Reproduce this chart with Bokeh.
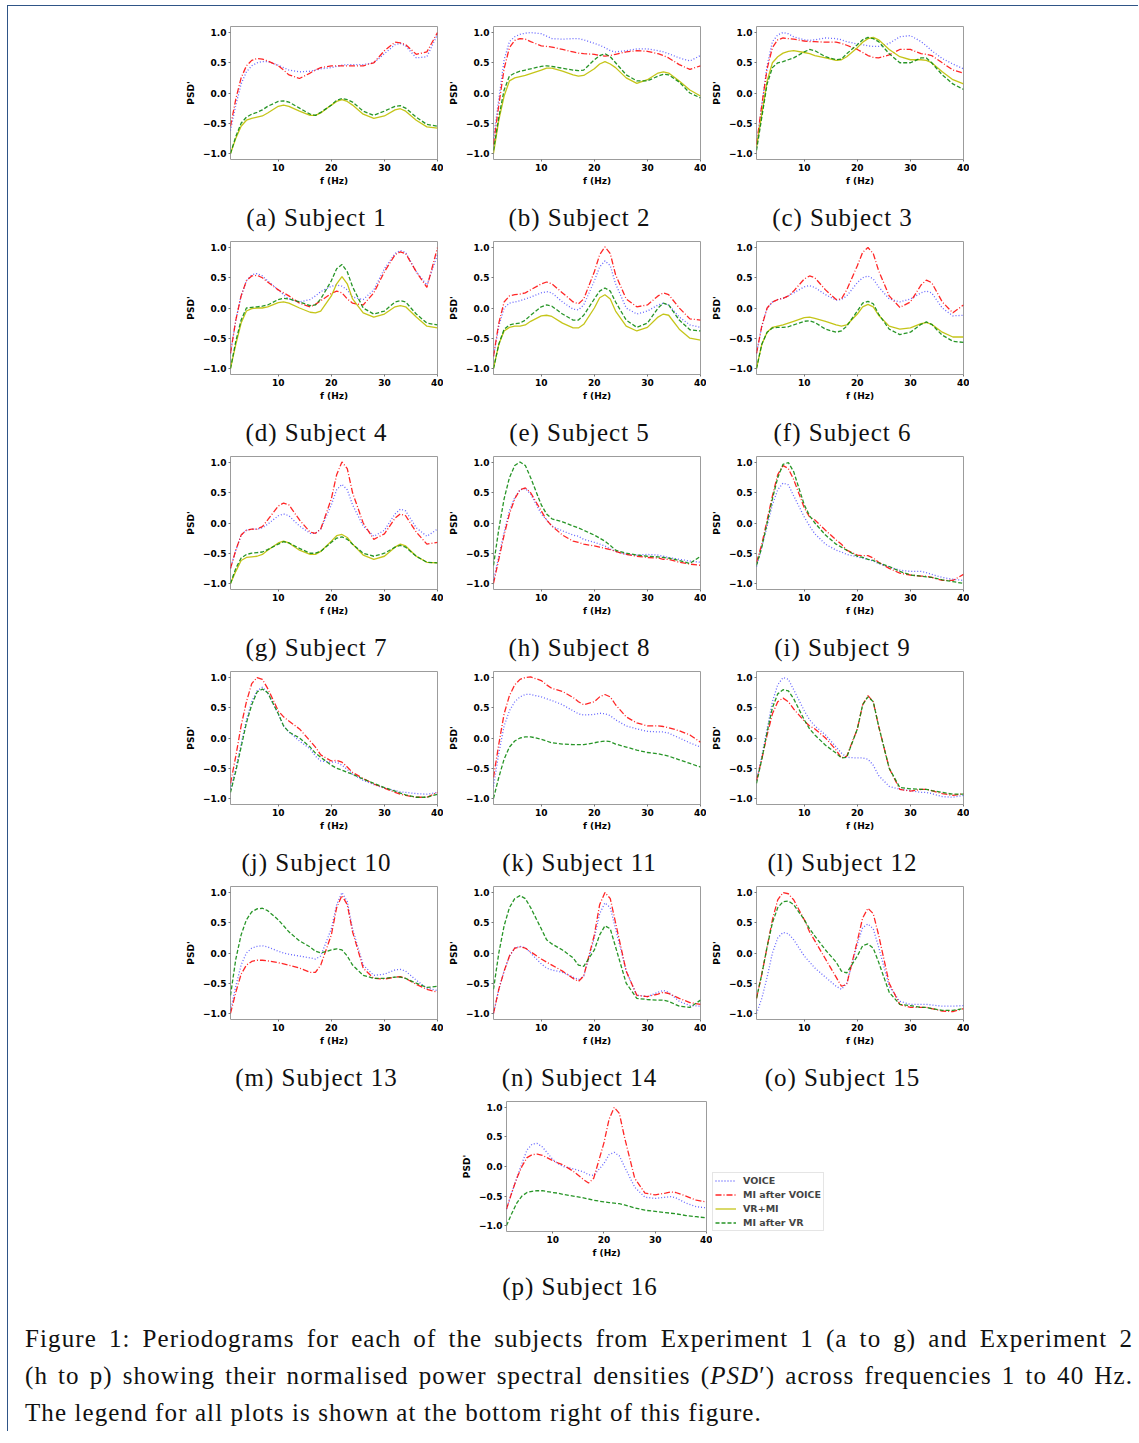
from bokeh.plotting import figure
from bokeh.models import Range1d, FixedTicker, Legend, LegendItem, Div, Spacer
from bokeh.layouts import row, column
from bokeh.embed import file_html
from bokeh.resources import INLINE

# frequency samples (Hz)
FREQ = [1, 2, 3, 4, 5, 6, 7, 8, 10, 11, 12, 14, 16, 17, 18, 20, 21, 22, 23, 24, 26, 28, 30, 32, 33, 34, 36, 38, 40]

X_TICKS = [10, 20, 30, 40]
Y_TICKS = [-1.0, -0.5, 0.0, 0.5, 1.0]
Y_TICK_LABELS = ["\u22121.0", "\u22120.5", "0.0", "0.5", "1.0"]

SERIES_NAMES = ["VOICE", "MI after VOICE", "VR+MI", "MI after VR"]

# ---- Experiment 1 ----
voice_s1 = [-0.62,-0.2,0.15,0.35,0.45,0.5,0.52,0.52,0.46,0.42,0.38,0.35,0.36,0.38,0.4,0.42,0.44,0.46,0.47,0.47,0.47,0.5,0.65,0.8,0.82,0.78,0.58,0.6,0.97]
mi_voice_s1 = [-0.55,-0.1,0.25,0.45,0.54,0.57,0.56,0.53,0.45,0.38,0.3,0.24,0.33,0.38,0.42,0.45,0.45,0.45,0.45,0.45,0.45,0.5,0.7,0.84,0.83,0.8,0.64,0.68,1.0]
vr_mi_s1 = [-1.0,-0.75,-0.55,-0.45,-0.42,-0.4,-0.38,-0.33,-0.22,-0.2,-0.22,-0.3,-0.37,-0.37,-0.33,-0.2,-0.14,-0.11,-0.14,-0.2,-0.35,-0.42,-0.38,-0.28,-0.26,-0.3,-0.45,-0.56,-0.58]
mi_vr_s1 = [-1.0,-0.72,-0.5,-0.4,-0.35,-0.32,-0.28,-0.22,-0.14,-0.13,-0.15,-0.25,-0.35,-0.37,-0.32,-0.2,-0.12,-0.09,-0.11,-0.15,-0.3,-0.37,-0.3,-0.22,-0.21,-0.25,-0.4,-0.52,-0.55]

voice_s2 = [-0.75,-0.1,0.55,0.85,0.93,0.97,0.99,1.0,0.98,0.94,0.9,0.89,0.9,0.9,0.88,0.82,0.79,0.75,0.7,0.68,0.7,0.73,0.73,0.7,0.68,0.65,0.58,0.53,0.62]
mi_voice_s2 = [-0.85,-0.2,0.4,0.75,0.87,0.9,0.89,0.85,0.78,0.77,0.76,0.72,0.68,0.66,0.65,0.64,0.62,0.61,0.62,0.64,0.68,0.7,0.69,0.65,0.62,0.58,0.47,0.39,0.45]
vr_mi_s2 = [-1.0,-0.45,-0.05,0.2,0.25,0.27,0.29,0.32,0.38,0.41,0.41,0.36,0.3,0.28,0.29,0.4,0.48,0.52,0.48,0.42,0.25,0.16,0.22,0.33,0.35,0.33,0.2,0.05,-0.05]
mi_vr_s2 = [-0.95,-0.4,0.05,0.28,0.33,0.36,0.38,0.4,0.44,0.45,0.44,0.41,0.38,0.37,0.38,0.55,0.62,0.65,0.6,0.5,0.3,0.2,0.2,0.28,0.31,0.3,0.18,0.0,-0.08]

voice_s3 = [-0.9,-0.2,0.45,0.85,0.96,1.0,0.98,0.93,0.88,0.87,0.88,0.91,0.9,0.88,0.85,0.81,0.8,0.78,0.77,0.77,0.82,0.93,0.95,0.85,0.78,0.7,0.57,0.48,0.4]
mi_voice_s3 = [-0.85,-0.2,0.4,0.75,0.88,0.91,0.9,0.89,0.86,0.85,0.85,0.84,0.84,0.82,0.79,0.72,0.67,0.62,0.59,0.58,0.63,0.72,0.72,0.65,0.64,0.62,0.5,0.38,0.33]
vr_mi_s3 = [-0.9,-0.35,0.2,0.5,0.6,0.66,0.69,0.7,0.67,0.65,0.62,0.58,0.54,0.55,0.6,0.75,0.84,0.9,0.92,0.88,0.72,0.6,0.55,0.55,0.54,0.5,0.35,0.22,0.15]
mi_vr_s3 = [-0.95,-0.4,0.15,0.42,0.5,0.52,0.55,0.58,0.68,0.72,0.7,0.6,0.55,0.56,0.65,0.8,0.88,0.92,0.9,0.85,0.65,0.5,0.5,0.58,0.58,0.5,0.3,0.15,0.06]

voice_s4 = [-0.75,-0.2,0.2,0.45,0.55,0.57,0.53,0.45,0.3,0.22,0.15,0.1,0.14,0.2,0.27,0.36,0.38,0.36,0.3,0.18,0.14,0.3,0.65,0.9,0.95,0.92,0.6,0.38,0.88]
mi_voice_s4 = [-0.75,-0.2,0.2,0.45,0.53,0.54,0.5,0.43,0.3,0.25,0.2,0.08,0.02,0.06,0.12,0.24,0.28,0.25,0.15,0.08,0.05,0.25,0.6,0.88,0.93,0.9,0.6,0.34,1.0]
vr_mi_s4 = [-1.0,-0.6,-0.25,-0.05,-0.01,0.0,0.0,0.02,0.09,0.1,0.08,0.0,-0.07,-0.08,-0.05,0.2,0.4,0.52,0.4,0.15,-0.08,-0.15,-0.1,0.02,0.04,0.02,-0.15,-0.3,-0.33]
mi_vr_s4 = [-1.0,-0.55,-0.2,0.0,0.01,0.02,0.03,0.05,0.14,0.16,0.15,0.1,0.04,0.05,0.15,0.45,0.65,0.72,0.6,0.35,0.0,-0.1,-0.05,0.1,0.12,0.1,-0.1,-0.25,-0.28]

voice_s5 = [-0.8,-0.3,0.0,0.08,0.1,0.12,0.15,0.18,0.25,0.27,0.25,0.1,-0.02,-0.03,0.05,0.45,0.68,0.78,0.7,0.4,0.0,-0.1,-0.05,0.05,0.08,0.05,-0.15,-0.28,-0.32]
mi_voice_s5 = [-0.8,-0.25,0.1,0.2,0.22,0.23,0.25,0.3,0.4,0.43,0.4,0.25,0.1,0.07,0.15,0.6,0.88,1.01,0.9,0.55,0.15,0.02,0.05,0.2,0.25,0.22,0.0,-0.18,-0.2]
vr_mi_s5 = [-1.0,-0.6,-0.38,-0.32,-0.3,-0.3,-0.28,-0.22,-0.13,-0.12,-0.14,-0.25,-0.33,-0.33,-0.27,0.0,0.17,0.22,0.15,-0.05,-0.3,-0.38,-0.32,-0.15,-0.1,-0.12,-0.35,-0.5,-0.53]
mi_vr_s5 = [-1.0,-0.6,-0.35,-0.28,-0.26,-0.25,-0.2,-0.12,0.02,0.05,0.03,-0.1,-0.2,-0.2,-0.12,0.15,0.28,0.33,0.28,0.1,-0.2,-0.32,-0.25,0.0,0.08,0.05,-0.2,-0.36,-0.38]

voice_s6 = [-0.75,-0.3,0.0,0.1,0.14,0.16,0.2,0.25,0.35,0.37,0.34,0.22,0.13,0.14,0.2,0.42,0.5,0.53,0.48,0.35,0.15,0.1,0.15,0.25,0.28,0.25,0.0,-0.13,-0.12]
mi_voice_s6 = [-0.75,-0.3,0.0,0.1,0.14,0.16,0.2,0.28,0.48,0.53,0.5,0.3,0.14,0.15,0.3,0.7,0.92,1.0,0.9,0.62,0.2,0.01,0.1,0.38,0.46,0.42,0.1,-0.08,0.05]
vr_mi_s6 = [-1.0,-0.6,-0.4,-0.32,-0.3,-0.28,-0.25,-0.22,-0.16,-0.15,-0.17,-0.22,-0.28,-0.3,-0.28,-0.1,0.02,0.06,0.02,-0.12,-0.3,-0.35,-0.33,-0.26,-0.24,-0.27,-0.4,-0.48,-0.48]
mi_vr_s6 = [-1.0,-0.6,-0.4,-0.33,-0.32,-0.32,-0.31,-0.28,-0.22,-0.21,-0.24,-0.35,-0.4,-0.38,-0.3,-0.05,0.08,0.11,0.07,-0.1,-0.35,-0.44,-0.4,-0.27,-0.23,-0.27,-0.45,-0.55,-0.57]

voice_s7 = [-0.75,-0.45,-0.2,-0.12,-0.1,-0.1,-0.08,-0.02,0.12,0.15,0.12,-0.05,-0.17,-0.17,-0.1,0.3,0.55,0.64,0.55,0.3,-0.05,-0.22,-0.12,0.15,0.23,0.2,-0.08,-0.22,-0.1]
mi_voice_s7 = [-0.75,-0.45,-0.2,-0.12,-0.1,-0.1,-0.06,0.05,0.28,0.33,0.3,0.05,-0.15,-0.17,-0.1,0.4,0.8,1.01,0.9,0.5,0.0,-0.27,-0.18,0.08,0.15,0.12,-0.15,-0.35,-0.32]
vr_mi_s7 = [-1.0,-0.8,-0.62,-0.57,-0.56,-0.55,-0.52,-0.45,-0.33,-0.3,-0.33,-0.45,-0.52,-0.52,-0.47,-0.3,-0.21,-0.19,-0.24,-0.35,-0.53,-0.6,-0.55,-0.4,-0.35,-0.38,-0.55,-0.65,-0.66]
mi_vr_s7 = [-1.0,-0.75,-0.58,-0.52,-0.5,-0.49,-0.48,-0.44,-0.35,-0.31,-0.33,-0.42,-0.5,-0.5,-0.47,-0.32,-0.25,-0.23,-0.27,-0.35,-0.5,-0.55,-0.5,-0.4,-0.37,-0.4,-0.55,-0.65,-0.66]

# ---- Experiment 2 (no VR+MI condition) ----
voice_s8 = [-0.95,-0.55,-0.15,0.2,0.42,0.55,0.57,0.48,0.15,0.05,-0.05,-0.13,-0.2,-0.22,-0.27,-0.32,-0.35,-0.38,-0.43,-0.47,-0.52,-0.53,-0.52,-0.53,-0.55,-0.57,-0.6,-0.63,-0.65]
mi_voice_s8 = [-1.0,-0.6,-0.2,0.15,0.4,0.55,0.58,0.5,0.2,0.05,-0.05,-0.2,-0.3,-0.32,-0.35,-0.38,-0.4,-0.42,-0.44,-0.47,-0.52,-0.55,-0.57,-0.58,-0.6,-0.6,-0.65,-0.68,-0.7]
mi_vr_s8 = [-0.7,-0.1,0.4,0.75,0.95,1.01,0.95,0.75,0.3,0.15,0.07,0.02,-0.05,-0.08,-0.12,-0.2,-0.25,-0.3,-0.37,-0.45,-0.5,-0.53,-0.55,-0.56,-0.57,-0.58,-0.62,-0.67,-0.55]

voice_s9 = [-0.72,-0.4,-0.05,0.3,0.55,0.66,0.63,0.45,0.1,-0.05,-0.18,-0.35,-0.45,-0.48,-0.52,-0.56,-0.58,-0.6,-0.63,-0.67,-0.73,-0.78,-0.8,-0.8,-0.82,-0.85,-0.9,-0.93,-0.95]
mi_voice_s9 = [-0.65,-0.35,0.05,0.45,0.8,0.95,0.9,0.72,0.25,0.1,0.05,-0.12,-0.28,-0.35,-0.45,-0.53,-0.54,-0.54,-0.58,-0.65,-0.75,-0.83,-0.86,-0.88,-0.88,-0.9,-0.95,-0.95,-0.85]
mi_vr_s9 = [-0.7,-0.4,0.0,0.4,0.75,0.97,1.0,0.85,0.3,0.12,0.0,-0.2,-0.35,-0.4,-0.45,-0.55,-0.57,-0.6,-0.62,-0.66,-0.72,-0.8,-0.86,-0.88,-0.89,-0.9,-0.94,-0.97,-1.0]

voice_s10 = [-0.85,-0.5,-0.1,0.3,0.6,0.78,0.84,0.75,0.4,0.2,0.1,-0.05,-0.18,-0.3,-0.38,-0.4,-0.4,-0.45,-0.52,-0.6,-0.7,-0.77,-0.83,-0.87,-0.89,-0.9,-0.92,-0.93,-0.9]
mi_voice_s10 = [-0.75,-0.3,0.2,0.6,0.9,1.0,0.97,0.82,0.45,0.35,0.28,0.15,-0.05,-0.15,-0.28,-0.38,-0.37,-0.4,-0.48,-0.57,-0.67,-0.76,-0.83,-0.9,-0.93,-0.95,-0.98,-0.98,-0.9]
mi_vr_s10 = [-0.9,-0.55,-0.15,0.25,0.55,0.76,0.81,0.75,0.4,0.2,0.1,0.0,-0.15,-0.25,-0.32,-0.45,-0.5,-0.53,-0.57,-0.6,-0.68,-0.75,-0.82,-0.88,-0.91,-0.94,-0.98,-0.98,-0.93]

voice_s11 = [-0.8,-0.25,0.2,0.45,0.6,0.68,0.72,0.72,0.68,0.65,0.62,0.55,0.45,0.4,0.38,0.39,0.41,0.4,0.37,0.3,0.2,0.15,0.11,0.1,0.1,0.08,0.0,-0.08,-0.15]
mi_voice_s11 = [-0.65,-0.1,0.4,0.7,0.88,0.97,1.0,1.01,0.95,0.88,0.82,0.77,0.67,0.6,0.55,0.6,0.68,0.72,0.68,0.55,0.35,0.25,0.2,0.2,0.19,0.17,0.12,0.05,-0.07]
mi_vr_s11 = [-1.0,-0.65,-0.35,-0.15,-0.05,0.0,0.02,0.02,-0.02,-0.05,-0.08,-0.1,-0.11,-0.11,-0.11,-0.08,-0.06,-0.05,-0.06,-0.1,-0.15,-0.2,-0.24,-0.26,-0.28,-0.3,-0.36,-0.42,-0.48]

voice_s12 = [-0.7,-0.3,0.15,0.6,0.88,1.0,0.97,0.8,0.45,0.3,0.2,0.05,-0.15,-0.25,-0.32,-0.33,-0.33,-0.35,-0.45,-0.62,-0.8,-0.85,-0.87,-0.9,-0.9,-0.92,-0.97,-0.98,-0.95]
mi_voice_s12 = [-0.7,-0.35,0.05,0.4,0.6,0.66,0.6,0.48,0.28,0.2,0.15,0.0,-0.2,-0.33,-0.3,0.15,0.55,0.7,0.6,0.2,-0.5,-0.85,-0.88,-0.85,-0.85,-0.87,-0.92,-0.95,-0.92]
mi_vr_s12 = [-0.75,-0.35,0.1,0.5,0.73,0.8,0.78,0.65,0.3,0.15,0.05,-0.12,-0.25,-0.33,-0.32,0.15,0.55,0.68,0.6,0.2,-0.5,-0.82,-0.84,-0.85,-0.85,-0.87,-0.9,-0.93,-0.93]

voice_s13 = [-0.95,-0.55,-0.2,0.0,0.08,0.11,0.12,0.1,0.03,0.0,-0.02,-0.05,-0.08,-0.1,-0.05,0.4,0.8,1.0,0.85,0.4,-0.2,-0.37,-0.35,-0.28,-0.27,-0.3,-0.45,-0.58,-0.62]
mi_voice_s13 = [-1.0,-0.65,-0.35,-0.2,-0.14,-0.12,-0.12,-0.13,-0.16,-0.18,-0.2,-0.25,-0.32,-0.32,-0.2,0.3,0.75,0.95,0.8,0.35,-0.25,-0.42,-0.43,-0.4,-0.39,-0.42,-0.52,-0.6,-0.65]
mi_vr_s13 = [-0.7,-0.1,0.3,0.55,0.68,0.73,0.74,0.7,0.55,0.45,0.35,0.2,0.1,0.03,0.0,0.05,0.07,0.05,-0.05,-0.2,-0.37,-0.42,-0.42,-0.4,-0.4,-0.42,-0.5,-0.57,-0.55]

voice_s14 = [-1.0,-0.6,-0.3,-0.05,0.08,0.11,0.09,0.0,-0.18,-0.25,-0.28,-0.32,-0.4,-0.44,-0.38,0.25,0.65,0.83,0.75,0.4,-0.3,-0.7,-0.72,-0.65,-0.62,-0.65,-0.8,-0.87,-0.88]
mi_voice_s14 = [-1.0,-0.6,-0.3,-0.05,0.08,0.1,0.08,0.02,-0.1,-0.15,-0.2,-0.3,-0.42,-0.47,-0.38,0.3,0.8,1.0,0.9,0.5,-0.3,-0.7,-0.72,-0.68,-0.65,-0.67,-0.75,-0.82,-0.85]
mi_vr_s14 = [-0.6,0.0,0.45,0.75,0.9,0.95,0.9,0.75,0.4,0.22,0.15,0.05,-0.08,-0.2,-0.22,0.05,0.3,0.45,0.4,0.1,-0.5,-0.75,-0.77,-0.78,-0.78,-0.8,-0.88,-0.9,-0.78]

voice_s15 = [-1.0,-0.75,-0.4,0.0,0.25,0.34,0.32,0.22,-0.05,-0.15,-0.25,-0.4,-0.55,-0.6,-0.5,0.15,0.42,0.48,0.4,0.1,-0.55,-0.8,-0.85,-0.85,-0.85,-0.86,-0.88,-0.88,-0.87]
mi_voice_s15 = [-0.75,-0.35,0.1,0.55,0.88,1.0,0.98,0.88,0.55,0.35,0.2,-0.1,-0.4,-0.55,-0.52,0.2,0.58,0.74,0.65,0.3,-0.5,-0.85,-0.9,-0.9,-0.9,-0.92,-0.96,-0.97,-0.92]
mi_vr_s15 = [-0.75,-0.35,0.1,0.5,0.75,0.85,0.86,0.8,0.55,0.4,0.28,0.05,-0.15,-0.3,-0.33,-0.05,0.12,0.15,0.08,-0.15,-0.65,-0.85,-0.87,-0.9,-0.9,-0.92,-0.95,-0.95,-0.92]

voice_s16 = [-0.72,-0.45,-0.2,0.05,0.28,0.38,0.39,0.33,0.12,0.05,0.0,-0.04,-0.09,-0.14,-0.15,0.05,0.2,0.24,0.18,0.0,-0.35,-0.52,-0.54,-0.52,-0.51,-0.53,-0.62,-0.68,-0.7]
mi_voice_s16 = [-0.72,-0.45,-0.2,0.0,0.15,0.2,0.21,0.19,0.1,0.06,0.03,-0.08,-0.22,-0.28,-0.2,0.4,0.8,1.0,0.9,0.5,-0.2,-0.45,-0.48,-0.45,-0.43,-0.44,-0.5,-0.57,-0.6]
mi_vr_s16 = [-1.0,-0.8,-0.62,-0.5,-0.44,-0.42,-0.41,-0.41,-0.44,-0.45,-0.47,-0.5,-0.53,-0.55,-0.57,-0.6,-0.61,-0.62,-0.63,-0.65,-0.7,-0.74,-0.76,-0.78,-0.79,-0.8,-0.83,-0.85,-0.87]

SUBJECTS = [
    ("a", 1, voice_s1, mi_voice_s1, vr_mi_s1, mi_vr_s1),
    ("b", 2, voice_s2, mi_voice_s2, vr_mi_s2, mi_vr_s2),
    ("c", 3, voice_s3, mi_voice_s3, vr_mi_s3, mi_vr_s3),
    ("d", 4, voice_s4, mi_voice_s4, vr_mi_s4, mi_vr_s4),
    ("e", 5, voice_s5, mi_voice_s5, vr_mi_s5, mi_vr_s5),
    ("f", 6, voice_s6, mi_voice_s6, vr_mi_s6, mi_vr_s6),
    ("g", 7, voice_s7, mi_voice_s7, vr_mi_s7, mi_vr_s7),
    ("h", 8, voice_s8, mi_voice_s8, None, mi_vr_s8),
    ("i", 9, voice_s9, mi_voice_s9, None, mi_vr_s9),
    ("j", 10, voice_s10, mi_voice_s10, None, mi_vr_s10),
    ("k", 11, voice_s11, mi_voice_s11, None, mi_vr_s11),
    ("l", 12, voice_s12, mi_voice_s12, None, mi_vr_s12),
    ("m", 13, voice_s13, mi_voice_s13, None, mi_vr_s13),
    ("n", 14, voice_s14, mi_voice_s14, None, mi_vr_s14),
    ("o", 15, voice_s15, mi_voice_s15, None, mi_vr_s15),
    ("p", 16, voice_s16, mi_voice_s16, None, mi_vr_s16),
]

STYLES = {
    "VOICE": dict(line_color="#0000ff", line_dash="1 2", line_width=1.3, line_alpha=0.6),
    "MI after VOICE": dict(line_color="#ff0000", line_dash="6 2 1 2", line_width=1.3, line_alpha=0.85),
    "VR+MI": dict(line_color="#bfbf00", line_dash="solid", line_width=1.3, line_alpha=0.9),
    "MI after VR": dict(line_color="#108a10", line_dash="4 2", line_width=1.3, line_alpha=0.9),
}

AX_FONT = "DejaVu Sans"
NAN = float("nan")


def make_panel(series, frame_w=207, frame_h=134, left=50, right=6, top=4, bottom=28):
    p = figure(width=left + frame_w + right, height=top + frame_h + bottom,
               x_range=Range1d(1, 40), y_range=Range1d(-1.1, 1.1),
               output_backend="svg", toolbar_location=None,
               min_border_left=left, min_border_right=right,
               min_border_top=top, min_border_bottom=bottom,
               background_fill_color="white", border_fill_color="white",
               outline_line_color="#9c9c9c", outline_line_width=1)
    p.grid.visible = False
    p.xaxis.ticker = FixedTicker(ticks=X_TICKS)
    p.yaxis.ticker = FixedTicker(ticks=Y_TICKS)
    p.yaxis.major_label_overrides = {t: s for t, s in zip(Y_TICKS, Y_TICK_LABELS)}
    p.xaxis.axis_label = "f (Hz)"
    p.yaxis.axis_label = "PSD'"
    for ax in (p.xaxis, p.yaxis):
        ax.axis_line_color = None
        ax.major_tick_out = 2
        ax.major_tick_in = 0
        ax.minor_tick_line_color = None
        ax.major_tick_line_color = "#777777"
        ax.major_label_text_font = AX_FONT
        ax.major_label_text_font_style = "bold"
        ax.major_label_text_font_size = "9px"
        ax.major_label_text_color = "black"
        ax.major_label_standoff = 2
        ax.axis_label_text_font = AX_FONT
        ax.axis_label_text_font_style = "bold"
        ax.axis_label_text_font_size = "9px"
        ax.axis_label_text_color = "black"
    p.xaxis.axis_label_standoff = 2
    p.yaxis.axis_label_standoff = 4
    for name, ys in series:
        p.line(FREQ, ys, **STYLES[name])
    return p


CAP_STYLE = ("font-family:'Liberation Serif','Times New Roman',serif;font-size:25px;"
             "letter-spacing:1px;text-align:center;line-height:30px;color:#111;white-space:nowrap;")


def caption(letter, num, width, height, mtop):
    return Div(text=(f'<div style="{CAP_STYLE}width:{width}px;margin-top:{mtop}px;">'
                     f'({letter}) Subject {num}</div>'),
               width=width, height=height, margin=0)


items = [Spacer(width=1, height=16)]
for r in range(5):
    figs, caps = [], []
    for c in range(3):
        letter, num, v, mv, vm, mvr = SUBJECTS[r * 3 + c]
        series = [("VOICE", v), ("MI after VOICE", mv)]
        if vm is not None:
            series.append(("VR+MI", vm))
        series.append(("MI after VR", mvr))
        figs.append(make_panel(series))
        caps.append(caption(letter, num, 263, 49, 15))
    items.append(row(Spacer(width=172, height=1), *figs))
    items.append(row(Spacer(width=177, height=1), *caps))

# last panel
letter, num, v, mv, vm, mvr = SUBJECTS[15]
p16 = make_panel([("VOICE", v), ("MI after VOICE", mv), ("MI after VR", mvr)],
                 frame_w=200, frame_h=131, right=6)

# legend strip beside the last panel (legend glyphs carry the shared line styles)
leg_fig = figure(width=122, height=163, output_backend="svg", toolbar_location=None,
                 x_axis_type=None, y_axis_type=None, x_range=Range1d(0, 1), y_range=Range1d(0, 1),
                 min_border=0, outline_line_color=None,
                 background_fill_color="white", border_fill_color="white")
leg_fig.grid.visible = False
leg_renderers = {n: leg_fig.line([NAN], [NAN], **STYLES[n]) for n in SERIES_NAMES}
legend = Legend(items=[LegendItem(label=n, renderers=[leg_renderers[n]]) for n in SERIES_NAMES],
                location=(0, 0), orientation="vertical",
                label_text_font=AX_FONT, label_text_font_style="bold", label_text_font_size="9.5px",
                glyph_width=21, glyph_height=11, label_height=11, label_standoff=7,
                spacing=3, padding=2, margin=0,
                border_line_color="#cccccc", border_line_width=1,
                background_fill_color="white", background_fill_alpha=1.0)
leg_fig.add_layout(legend)

items.append(row(Spacer(width=448, height=1), p16, leg_fig))
items.append(row(Spacer(width=448, height=1), caption(letter, num, 248, 45, 12)))

MAIN_STYLE = ("font-family:'Liberation Serif','Times New Roman',serif;font-size:25px;"
              "letter-spacing:1.1px;line-height:37px;color:#111;margin-top:15px;width:1108px;")
JUST = "width:1108px;text-align:justify;text-align-last:justify;"
main_caption = Div(
    text=(f'<div style="{MAIN_STYLE}">'
          f'<div style="{JUST}">Figure 1: Periodograms for each of the subjects from Experiment 1 (a to g) and Experiment 2</div>'
          f'<div style="{JUST}">(h to p) showing their normalised power spectral densities (<i>PSD</i>\u2032) across frequencies 1 to 40 Hz.</div>'
          f'<div style="white-space:nowrap;">The legend for all plots is shown at the bottom right of this figure.</div>'
          '</div>'),
    width=1108, height=126, margin=0)
items.append(row(Spacer(width=17, height=1), main_caption, Spacer(width=5, height=1)))

layout = column(*items, margin=(5, 0, 0, 7),
                styles={"border-left": "1px solid #2f5587", "border-top": "1px solid #2f5587"})

open("out.html", "w").write(file_html(layout, INLINE))
